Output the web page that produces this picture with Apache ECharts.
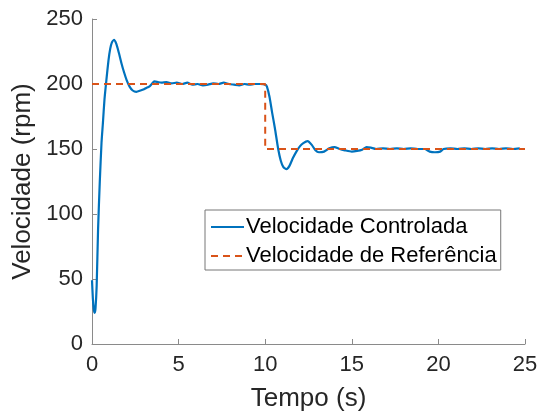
<!DOCTYPE html>
<html>
<head>
<meta charset="utf-8">
<script src="https://cdn.jsdelivr.net/npm/echarts@6/dist/echarts.min.js"></script>
<style>
  html, body { margin: 0; padding: 0; background: #fff; }
  #main { width: 543px; height: 418px; }
</style>
</head>
<body>
<div id="main"></div>
<script>
// velocidade controlada
var tempo = [0, 0.05, 0.1, 0.15, 0.2, 0.27, 0.35, 0.45, 0.55, 0.63, 0.72, 0.83, 0.95, 1.05, 1.15, 1.27,
  1.4, 1.55, 1.7, 1.85, 2.0, 2.17, 2.35, 2.56, 2.8, 3.0, 3.13, 3.3, 3.45, 3.6, 3.8, 4.0, 4.3, 4.6,
  4.9, 5.2, 5.5, 5.8, 6.1, 6.4, 6.7, 7.0, 7.3, 7.6, 7.9, 8.2, 8.5, 8.8, 9.1, 9.4, 9.7, 10.0,
  10.1, 10.25, 10.4, 10.56, 10.75, 10.9, 11.05, 11.23, 11.4, 11.6, 11.8, 12.0, 12.2, 12.45, 12.7,
  12.9, 13.1, 13.4, 13.7, 14.0, 14.3, 14.6, 15.0, 15.3, 15.6, 15.85, 16.1, 16.4, 16.8, 17.2, 17.6,
  18.0, 18.4, 18.8, 19.2, 19.5, 19.8, 20.1, 20.3, 20.7, 21.1, 21.5, 21.9, 22.3, 22.7, 23.1, 23.5,
  23.9, 24.3, 24.7];
var velocidade = [49, 35, 27, 24, 27, 45, 88, 125, 155, 170, 188, 203, 218, 227, 232, 234,
  231, 224, 216, 209, 203, 198, 195, 194, 195, 196, 197, 198, 200, 202, 201.5, 201, 201.5, 200.5,
  201, 200, 201, 199.5, 200, 199, 199.5, 200.5, 200, 201, 200, 199.5, 199, 200, 199.5, 200, 200, 199.5,
  198, 190, 178, 166, 150, 141, 136, 134.5, 137, 143, 148, 152, 154.5, 156, 153,
  149, 147.5, 148, 150.5, 151.5, 150, 149, 148, 148.5, 149.5, 151.5, 151, 150, 150.5, 150, 150.5,
  150, 150.5, 150, 150, 148, 147.5, 148, 150, 150.5, 150, 150.5, 150, 150.5, 150, 150.5, 150,
  150.5, 150, 150.5];

// velocidade de referência
var tempoRef = [0, 10, 10, 25];
var velocidadeRef = [200, 200, 150, 150];

var xTicks = [0, 5, 10, 15, 20, 25];
var yTicks = [0, 50, 100, 150, 200, 250];

var chart = echarts.init(document.getElementById('main'));

var axisColor = '#8a8a8a';
var textColor = '#262626';
var font = 'Liberation Sans, Arial, sans-serif';

var option = {
  animation: false,
  grid: { left: 92, right: 18, top: 19, bottom: 74 },
  legend: {
    orient: 'vertical',
    left: 205,
    top: 210,
    backgroundColor: '#fff',
    borderColor: '#777',
    borderWidth: 1,
    padding: [6, 4, 3, 5],
    itemGap: 7,
    itemWidth: 33,
    itemHeight: 22,
    itemStyle: { opacity: 0 },
    textStyle: { fontFamily: font, fontSize: 22, color: '#000', padding: [0, 0, 0, -3] },
    data: ['Velocidade Controlada', 'Velocidade de Referência']
  },
  xAxis: {
    type: 'value',
    min: xTicks[0],
    max: xTicks[xTicks.length - 1],
    interval: 5,
    name: 'Tempo (s)',
    nameLocation: 'middle',
    nameGap: 42,
    nameTextStyle: { fontFamily: font, fontSize: 26, color: textColor },
    axisLine: { lineStyle: { color: axisColor, width: 1 } },
    axisTick: { inside: true, length: 5, lineStyle: { color: axisColor } },
    axisLabel: { fontFamily: font, fontSize: 22, color: textColor, margin: 10 },
    splitLine: { show: false }
  },
  yAxis: {
    type: 'value',
    min: yTicks[0],
    max: yTicks[yTicks.length - 1],
    interval: 50,
    name: 'Velocidade (rpm)',
    nameLocation: 'middle',
    nameGap: 50,
    nameTextStyle: { fontFamily: font, fontSize: 26, color: textColor },
    axisLine: { show: true, lineStyle: { color: axisColor, width: 1 } },
    axisTick: { show: true, inside: true, length: 5, lineStyle: { color: axisColor } },
    axisLabel: { fontFamily: font, fontSize: 22, color: textColor, margin: 9 },
    splitLine: { show: false }
  },
  series: [
    {
      name: 'Velocidade Controlada',
      type: 'line',
      showSymbol: false,
      symbol: 'none',
      smooth: 0.2,
      data: tempo.map(function (t, i) { return [t, velocidade[i]]; }),
      lineStyle: { color: '#0072BD', width: 2.2 },
      itemStyle: { color: '#0072BD' },
      z: 3
    },
    {
      name: 'Velocidade de Referência',
      type: 'line',
      showSymbol: false,
      symbol: 'none',
      data: tempoRef.map(function (t, i) { return [t, velocidadeRef[i]]; }),
      lineStyle: { color: '#D95319', width: 2, type: [7, 5] },
      itemStyle: { color: '#D95319' },
      z: 4
    }
  ]
};

chart.setOption(option);
</script>
</body>
</html>
